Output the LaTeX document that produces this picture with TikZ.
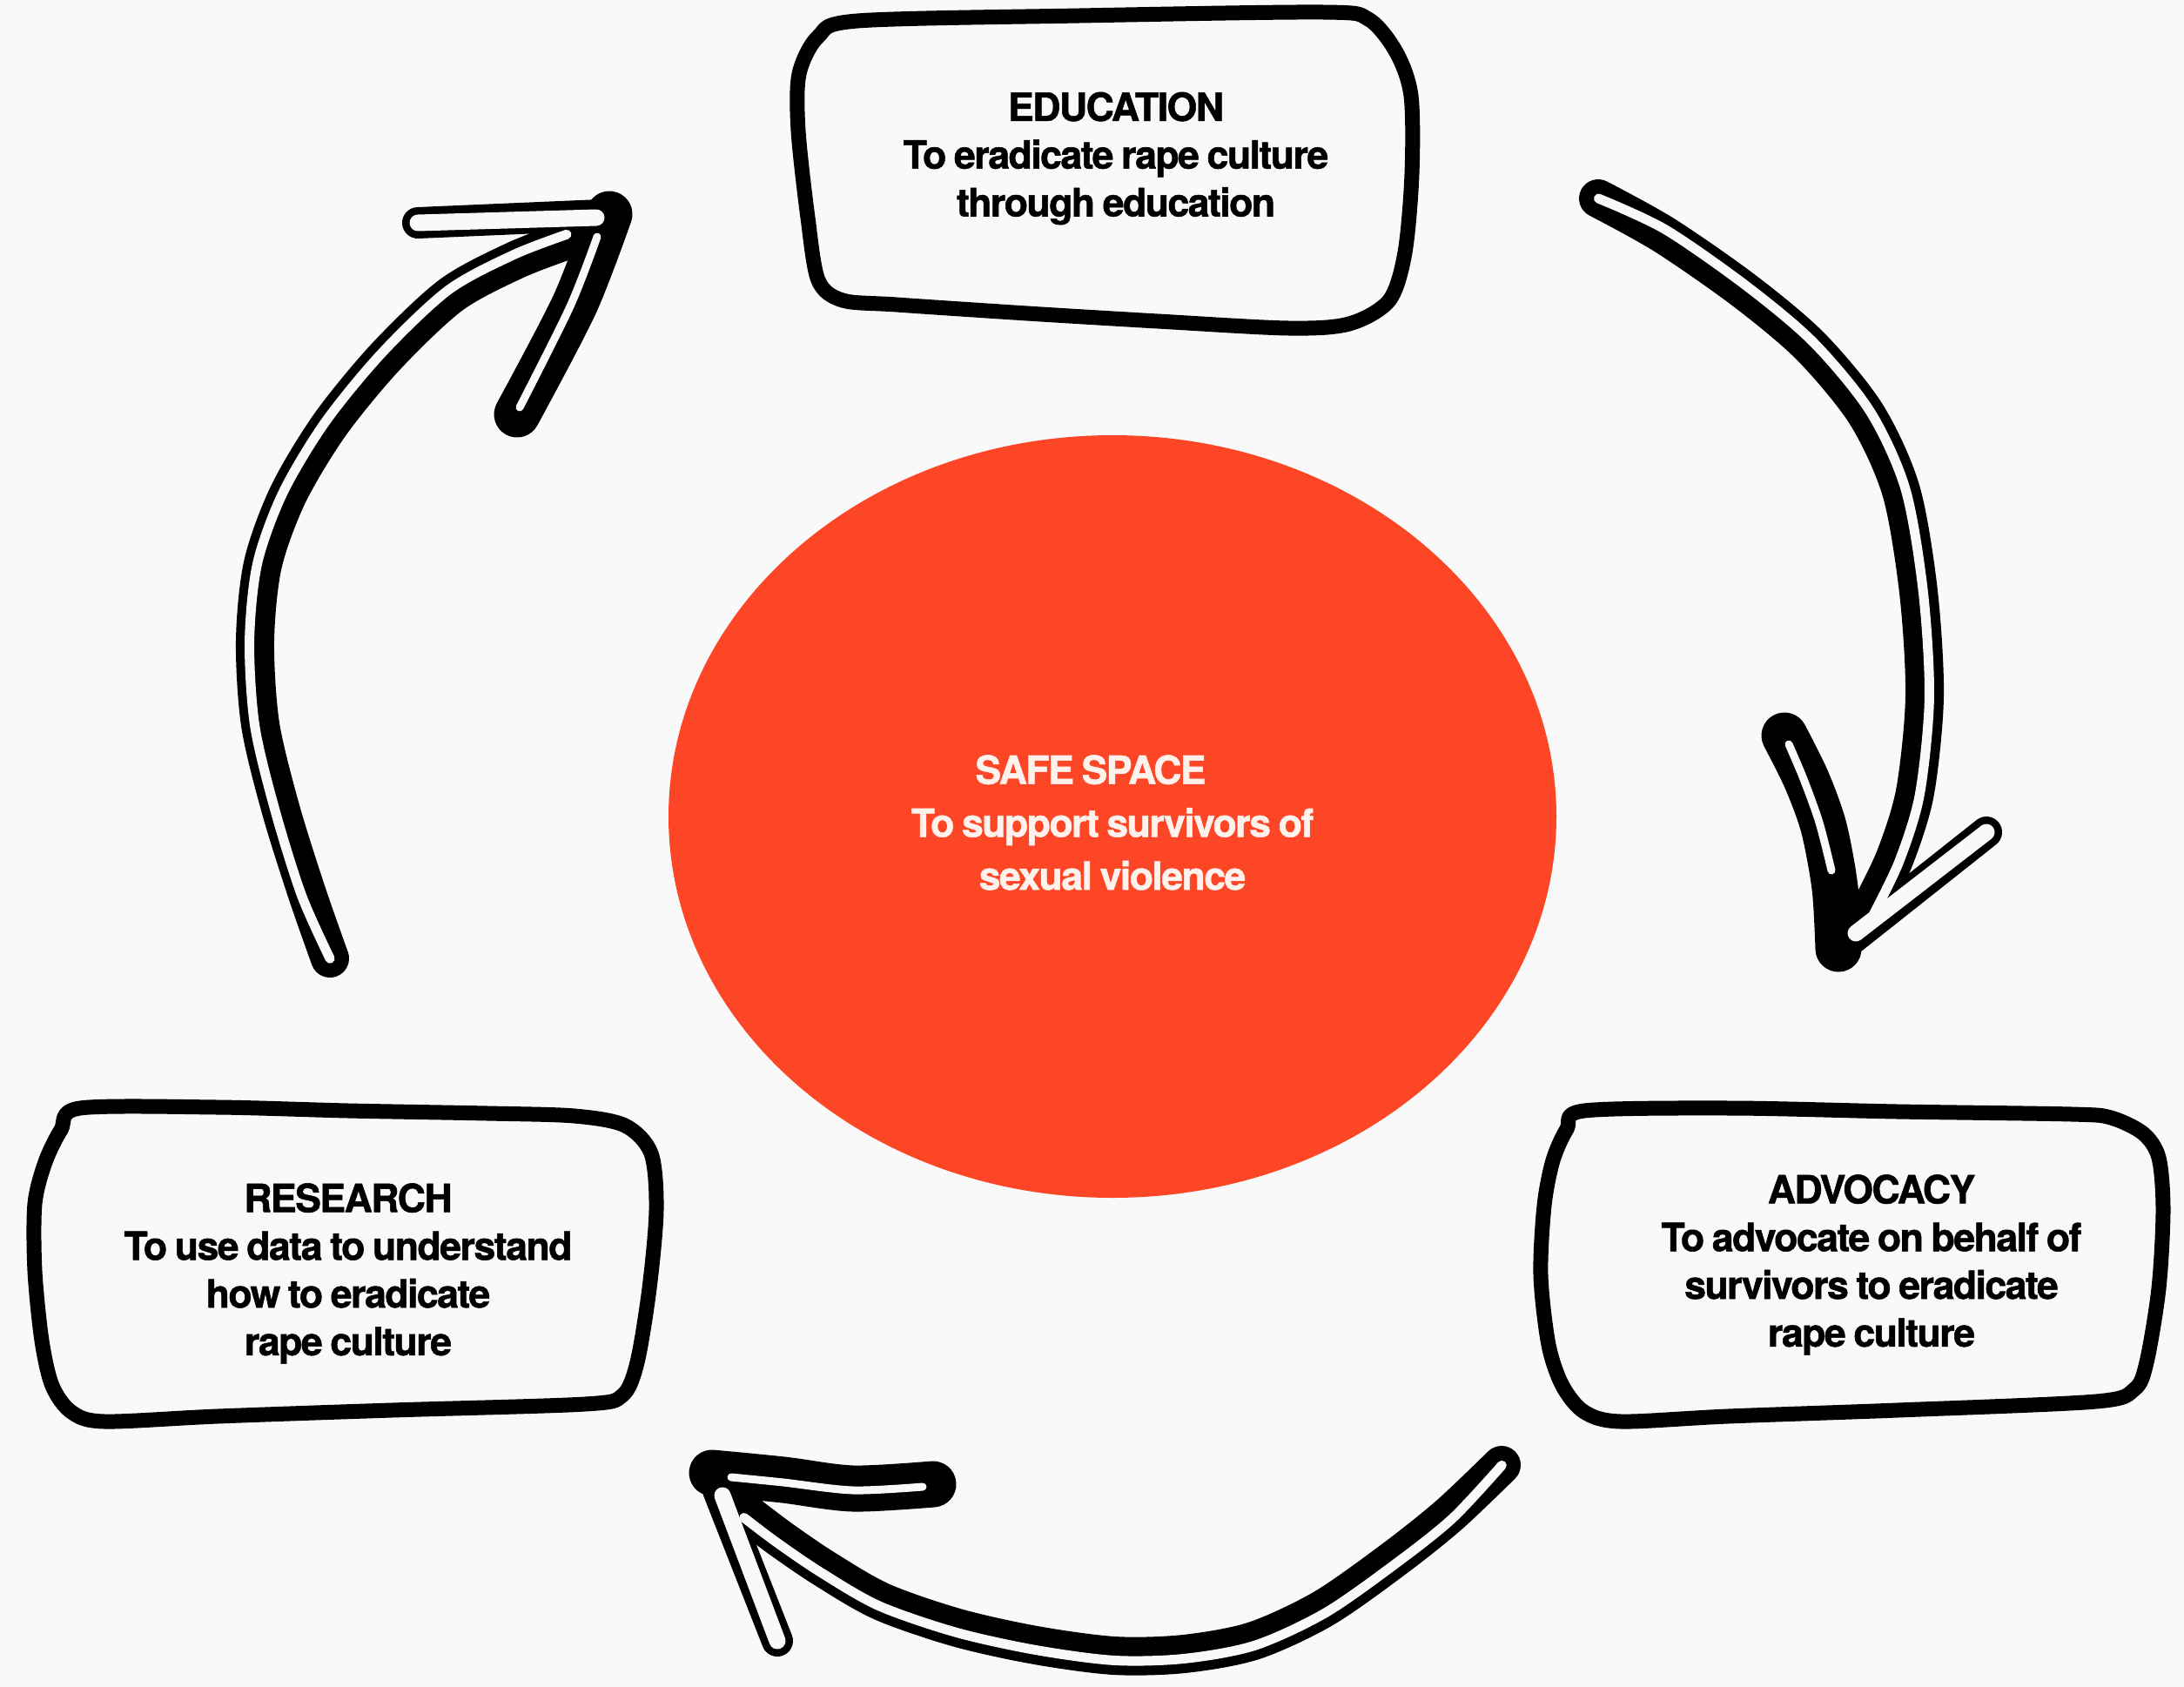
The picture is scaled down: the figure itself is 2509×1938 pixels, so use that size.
\documentclass[tikz,border=0pt]{standalone}
\usepackage{fontspec}
\newfontfamily\labelfont{TeX Gyre Heros}[LetterSpace=-3.5,WordSpace=0.8,FakeBold=1.2]
\usetikzlibrary{shapes.geometric}
\definecolor{paper}{RGB}{249,249,249}
\definecolor{safered}{RGB}{252,70,38}
\definecolor{pale}{RGB}{255,241,236}

\begin{document}
\begin{tikzpicture}[x=0.1mm, y=-0.1mm,
		boxline/.style={draw=black, line width=1.7mm, line join=round},
		boxtext/.style={font=\labelfont\bfseries\fontsize{12.7}{15.6}\selectfont, align=center, inner sep=0pt},
		blob/.style={ellipse, fill=safered, inner sep=0pt, minimum width=102mm, minimum height=87.6mm},
		safetext/.style={text=pale, inner sep=0pt, font=\labelfont\bfseries\fontsize{12.7}{17.3}\selectfont, align=center},
		shaft/.style={draw=black, line width=4.4mm, line cap=round, line join=round},
		gap/.style={draw=paper, line width=1.1mm, line cap=round, line join=round},
		barbthick/.style={draw=black, line width=5.3mm, line cap=round, line join=round},
		barbthickgap/.style={draw=paper, line width=0.9mm, line cap=round},
		barbthin/.style={draw=black, line width=3.6mm, line cap=round},
		barbthingap/.style={draw=paper, line width=1.9mm, line cap=round}]
		\fill[paper] (0,0) rectangle (2509,1938);
		\useasboundingbox (0,0) rectangle (2509,1938);

		\node[blob] (blob) at (1278,938) {};
		\node[safetext] (safe) at (1278,945) {SAFE SPACE\hspace*{5mm}\\To support survivors of\\sexual violence};

		\draw[boxline] plot[smooth cycle] coordinates {(985,24) (1240,18) (1520,14) (1572,22) (1604,60) (1621,110) (1622,200) (1614,290) (1596,345) (1550,372) (1480,377) (1330,369) (1180,360) (1030,350) (968,345) (940,322) (928,250) (917,150) (918,85) (940,42)};
		\draw[boxline] plot[smooth cycle] coordinates {(92,1273) (250,1272) (400,1276) (560,1279) (660,1282) (718,1293) (748,1325) (754,1390) (746,1480) (732,1565) (715,1603) (672,1613) (450,1620) (250,1627) (120,1633) (82,1622) (60,1592) (48,1540) (40,1460) (40,1383) (52,1335) (70,1298)};
		\draw[boxline] plot[smooth cycle] coordinates {(1820,1276) (1990,1273) (2180,1277) (2380,1280) (2425,1284) (2462,1302) (2480,1330) (2485,1390) (2480,1480) (2466,1565) (2452,1596) (2408,1610) (2180,1620) (1985,1627) (1862,1633) (1820,1622) (1795,1592) (1779,1545) (1770,1465) (1774,1385) (1784,1333) (1800,1297)};

		\node[boxtext] (edu) at (1282,182) {EDUCATION\\To eradicate rape culture\\through education};
		\node[boxtext] (res) at (400,1463) {RESEARCH\\To use data to understand\\how to eradicate\\rape culture};
		\node[boxtext] (adv) at (2150,1453) {ADVOCACY\\To advocate on behalf of\\survivors to eradicate\\rape culture};

		\coordinate (rtail) at (379,1101);
		\coordinate (etip) at (700,246);
		\coordinate (etail) at (1836,228);
		\coordinate (atip) at (2112,1090);
		\coordinate (atail) at (1725,1683);
		\coordinate (rtip) at (818,1692);

		\path[shaft] plot[smooth] coordinates {(rtail) (352,1024) (322,928) (299,832) (293,736) (302,648) (331,568) (379,488) (443,410) (518,339) (592,299) (652,276)};
		\path[barbthick] plot[smooth] coordinates {(etip) (660,350) (594,476)};
		\path[barbthin] (690,247) -- (480,256);

		\path[shaft] plot[smooth] coordinates {(etail) (1912,270) (2004,334) (2080,398) (2144,476) (2184,564) (2204,680) (2211,800) (2200,910) (2177,985) (2148,1045)};
		\path[barbthick] plot[smooth] coordinates {(atip) (2108,1020) (2095,950) (2075,895) (2050,845)};
		\path[barbthin] (2128,1078) -- (2282,956);

		\path[shaft] plot[smooth] coordinates {(atail) (1664,1741) (1600,1792) (1520,1848) (1440,1885) (1360,1900) (1280,1902) (1190,1890) (1100,1870) (1013,1840) (947,1802) (897,1768) (860,1740)};
		\path[barbthick] plot[smooth] coordinates {(rtip) (900,1700) (980,1710) (1072,1705)};
		\path[barbthin] (825,1712) -- (893,1885);

		\path[gap, scale around={1.015:(720,720)}] plot[smooth] coordinates {(rtail) (352,1024) (322,928) (299,832) (293,736) (302,648) (331,568) (379,488) (443,410) (518,339) (592,299) (652,276)};
		\path[barbthickgap] plot[smooth] coordinates {(686,272) (655,352) (597,468)};
		\path[barbthingap] (685,250) -- (480,256);

		\path[gap, scale around={1.015:(1850,700)}] plot[smooth] coordinates {(etail) (1912,270) (2004,334) (2080,398) (2144,476) (2184,564) (2204,680) (2211,800) (2200,910) (2177,985) (2148,1045)};
		\path[barbthickgap] plot[smooth] coordinates {(2104,1000) (2090,945) (2072,895) (2055,855)};
		\path[barbthingap] (2132,1072) -- (2282,956);

		\path[gap, scale around={1.012:(1300,1450)}] plot[smooth] coordinates {(atail) (1664,1741) (1600,1792) (1520,1848) (1440,1885) (1360,1900) (1280,1902) (1190,1890) (1100,1870) (1013,1840) (947,1802) (897,1768) (860,1740)};
		\path[barbthickgap] plot[smooth] coordinates {(840,1697) (900,1703) (980,1712) (1060,1708)};
		\path[barbthingap] (830,1718) -- (893,1885);
	\end{tikzpicture}
\end{document}
